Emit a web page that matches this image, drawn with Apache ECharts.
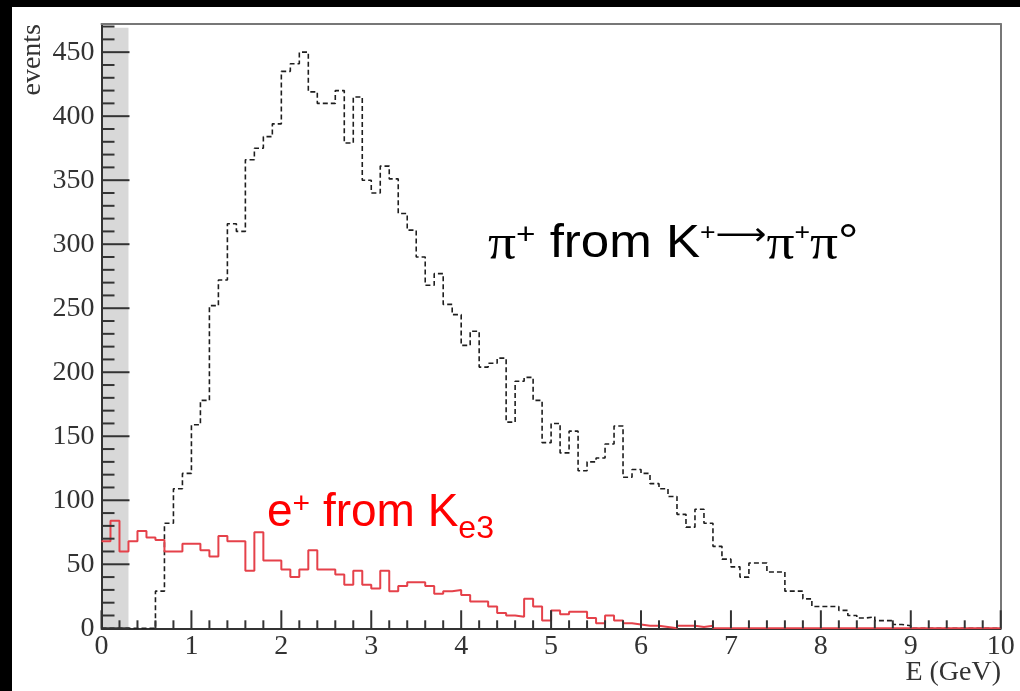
<!DOCTYPE html>
<html>
<head>
<meta charset="utf-8">
<script src="https://cdn.jsdelivr.net/npm/echarts@6/dist/echarts.min.js"></script>
<style>
  html, body { margin: 0; padding: 0; background: #000; width: 1020px; height: 691px; overflow: hidden; }
  #chart { position: absolute; left: 12px; top: 7px; width: 1008px; height: 684px; background: #fff; }
</style>
</head>
<body>
<div id="chart"></div>
<script>
// Lower edges of the 0.1 GeV energy bins (GeV)
const binLowEdges = [
  0.0, 0.1, 0.2, 0.3, 0.4, 0.5, 0.6, 0.7, 0.8, 0.9,
  1.0, 1.1, 1.2, 1.3, 1.4, 1.5, 1.6, 1.7, 1.8, 1.9,
  2.0, 2.1, 2.2, 2.3, 2.4, 2.5, 2.6, 2.7, 2.8, 2.9,
  3.0, 3.1, 3.2, 3.3, 3.4, 3.5, 3.6, 3.7, 3.8, 3.9,
  4.0, 4.1, 4.2, 4.3, 4.4, 4.5, 4.6, 4.7, 4.8, 4.9,
  5.0, 5.1, 5.2, 5.3, 5.4, 5.5, 5.6, 5.7, 5.8, 5.9,
  6.0, 6.1, 6.2, 6.3, 6.4, 6.5, 6.6, 6.7, 6.8, 6.9,
  7.0, 7.1, 7.2, 7.3, 7.4, 7.5, 7.6, 7.7, 7.8, 7.9,
  8.0, 8.1, 8.2, 8.3, 8.4, 8.5, 8.6, 8.7, 8.8, 8.9,
  9.0, 9.1, 9.2, 9.3, 9.4, 9.5, 9.6, 9.7, 9.8, 9.9
];
const histUpperEdge = 10.0;

// pi+ from K+ -> pi+ pi0 (events per bin)
const piEvents = [
  0, 0, 0, 0, 0, 0, 29, 82, 109, 121,
  159, 178, 252, 272, 316, 310, 366, 375, 384, 394,
  435, 441, 450, 419, 410, 410, 420, 379, 415, 350,
  340, 361, 351, 324, 311, 290, 268, 277, 253, 245,
  221, 232, 204, 207, 211, 161, 193, 196, 178, 145,
  160, 137, 154, 123, 130, 133, 144, 158, 118, 124,
  121, 113, 109, 103, 89, 79, 93, 82, 64, 54,
  48, 40, 51, 51, 44, 44, 29, 29, 23, 17,
  17, 17, 14, 10, 8, 9, 6, 6, 3, 2,
  0, 0, 0, 0, 0, 0, 0, 0, 0, 0
];

// e+ from Ke3 (events per bin)
const eEvents = [
  68, 84, 60, 68, 76, 71, 69, 60, 60, 66,
  66, 61, 56, 72, 68, 68, 45, 75, 53, 53,
  46, 40, 46, 61, 46, 46, 42, 34, 45, 34,
  31, 45, 29, 33, 36, 36, 33, 27, 29, 30,
  26, 21, 21, 17, 12, 10, 9, 23, 17, 6,
  14, 11, 13, 13, 8, 4, 10, 6, 4, 3,
  2, 2, 1, 0, 2, 2, 1, 2, 0, 0,
  0, 0, 0, 0, 0, 0, 0, 0, 0, 0,
  0, 0, 0, 0, 0, 0, 0, 0, 0, 0,
  0, 0, 0, 0, 0, 0, 0, 0, 0, 0
];

// Axis ranges and tick values
const xMin = 0, xMax = 10;
const yMin = 0, yMax = 472;
const xMajorTicks = [0, 1, 2, 3, 4, 5, 6, 7, 8, 9, 10];
const xMinorPerMajor = 5;
const yMajorTicks = [0, 50, 100, 150, 200, 250, 300, 350, 400, 450];
const yMinorStep = 10;

// Shaded low-energy region (GeV) and its upper value
const cutRegion = [0.0, 0.3];
const cutTop = 469;

function toSteps(values) {
  const pts = binLowEdges.map((e, i) => [e, values[i]]);
  pts.push([histUpperEdge, values[values.length - 1]]);
  return pts;
}

const xMinorTicks = [];
for (let i = 0; i < xMajorTicks.length - 1; i++) {
  const a = xMajorTicks[i], b = xMajorTicks[i + 1];
  for (let k = 1; k < xMinorPerMajor; k++) xMinorTicks.push(+(a + (b - a) * k / xMinorPerMajor).toFixed(3));
}
const yMinorTicks = [];
for (let v = yMin + yMinorStep; v < yMax; v += yMinorStep) {
  if (yMajorTicks.indexOf(v) < 0) yMinorTicks.push(v);
}

const serifFont = '"Liberation Serif", "DejaVu Serif", serif';
const sansFont = '"Liberation Sans", Arial, sans-serif';
const axisColor = '#333';
const frameColor = '#777';

const gridBox = { left: 89.5, right: 19.3, top: 17, bottom: 62.7 };

const textElements = [
  {
    type: 'text', x: 21, y: 17, rotation: Math.PI / 2,
    style: { text: 'events', font: '28px ' + serifFont, fill: axisColor, align: 'right', verticalAlign: 'middle' }
  },
  {
    type: 'text', x: 989, y: 666,
    style: { text: 'E (GeV)', font: '28px ' + serifFont, fill: axisColor, align: 'right', verticalAlign: 'middle' }
  },
  {
    type: 'text', x: 476, y: 214, scaleX: 1.11,
    style: {
      text: '{pi|π}{sp|+}{t| from K}{sp2|+}{ar|⟶}{pi|π}{sp2|+}{pi|π}{t|°}',
      align: 'left', verticalAlign: 'top',
      rich: {
        t:   { fontFamily: sansFont, fontSize: 46, lineHeight: 52, fill: '#000', verticalAlign: 'top' },
        pi:  { fontFamily: serifFont, fontSize: 50, lineHeight: 52, fill: '#000', verticalAlign: 'top' },
        sp:  { fontFamily: sansFont, fontSize: 30, lineHeight: 30, fill: '#000', verticalAlign: 'top' },
        sp2: { fontFamily: sansFont, fontSize: 24, lineHeight: 36, fill: '#000', verticalAlign: 'top' },
        ar:  { fontFamily: '"DejaVu Sans", sans-serif', fontSize: 32, lineHeight: 42, fill: '#000', verticalAlign: 'top' }
      }
    }
  },
  {
    type: 'text', x: 255, y: 483,
    style: {
      text: '{t|e}{sp|+}{t| from K}{sub|e3}',
      align: 'left', verticalAlign: 'top',
      rich: {
        t:   { fontFamily: sansFont, fontSize: 46, lineHeight: 52, fill: '#ff0000', verticalAlign: 'top' },
        sp:  { fontFamily: sansFont, fontSize: 30, lineHeight: 30, fill: '#ff0000', verticalAlign: 'top' },
        sub: { fontFamily: sansFont, fontSize: 32, lineHeight: 32, padding: [23, 0, 0, 0], fill: '#ff0000', verticalAlign: 'top' }
      }
    }
  }
];

const chart = echarts.init(document.getElementById('chart'), null, { renderer: 'canvas' });

chart.setOption({
  animation: false,
  backgroundColor: '#fff',
  grid: Object.assign({ show: false }, gridBox),
  xAxis: [
    {
      type: 'value', min: xMin, max: xMax, interval: 1, position: 'bottom', z: 2,
      axisLine: { show: true, onZero: false, lineStyle: { color: axisColor, width: 2 } },
      axisTick: { show: false },
      splitLine: { show: false },
      axisLabel: {
        fontFamily: serifFont, fontSize: 28, color: axisColor, margin: 4,
        showMinLabel: true, showMaxLabel: true
      }
    },
    {
      // top edge of the frame
      type: 'value', min: xMin, max: xMax, position: 'top', z: 2,
      axisLine: { show: true, onZero: false, lineStyle: { color: frameColor, width: 2 } },
      axisTick: { show: false }, axisLabel: { show: false }, splitLine: { show: false }
    }
  ],
  yAxis: [
    {
      type: 'value', min: yMin, max: yMax, interval: 50, position: 'left', z: 2,
      axisLine: { show: true, onZero: false, lineStyle: { color: axisColor, width: 2 } },
      axisTick: { show: false },
      splitLine: { show: false },
      axisLabel: {
        fontFamily: serifFont, fontSize: 28, color: axisColor, margin: 7,
        showMinLabel: true, showMaxLabel: false,
        formatter: v => (v % 50 === 0 ? String(v) : '')
      }
    },
    {
      // right edge of the frame
      type: 'value', min: yMin, max: yMax, position: 'right', z: 2,
      axisLine: { show: true, onZero: false, lineStyle: { color: frameColor, width: 2 } },
      axisTick: { show: false }, axisLabel: { show: false }, splitLine: { show: false }
    }
  ],
  series: [
    {
      // shaded low-energy region
      name: 'cut', type: 'line', z: 0, silent: true,
      data: [[cutRegion[0], cutTop], [cutRegion[1], cutTop]],
      showSymbol: false,
      lineStyle: { width: 0, opacity: 0 },
      areaStyle: { color: '#d8d8d8', opacity: 1, origin: 'start' }
    },
    {
      name: 'pi+', type: 'line', step: 'end', z: 3,
      data: toSteps(piEvents),
      showSymbol: false,
      lineStyle: { color: '#1e1e1e', width: 1.6, type: [5, 3] }
    },
    {
      name: 'e+', type: 'line', step: 'end', z: 4,
      data: toSteps(eEvents),
      showSymbol: false,
      lineStyle: { color: '#e5414a', width: 2 }
    }
  ],
  graphic: textElements
});

// Inward tick marks, positioned through the axis scales once the grid is laid out
const finder = { xAxisIndex: 0, yAxisIndex: 0 };
function tickLine(p, dx, dy) {
  return {
    type: 'line', silent: true, z: 50,
    shape: { x1: p[0], y1: p[1], x2: p[0] + dx, y2: p[1] + dy },
    style: { stroke: axisColor, lineWidth: 2 }
  };
}
const tickElements = [];
xMajorTicks.forEach(v => tickElements.push(tickLine(chart.convertToPixel(finder, [v, yMin]), 0, -18)));
xMinorTicks.forEach(v => tickElements.push(tickLine(chart.convertToPixel(finder, [v, yMin]), 0, -8)));
yMajorTicks.forEach(v => tickElements.push(tickLine(chart.convertToPixel(finder, [xMin, v]), 28, 0)));
yMinorTicks.forEach(v => tickElements.push(tickLine(chart.convertToPixel(finder, [xMin, v]), 13, 0)));

chart.setOption({ graphic: textElements.concat(tickElements) });
</script>
</body>
</html>
